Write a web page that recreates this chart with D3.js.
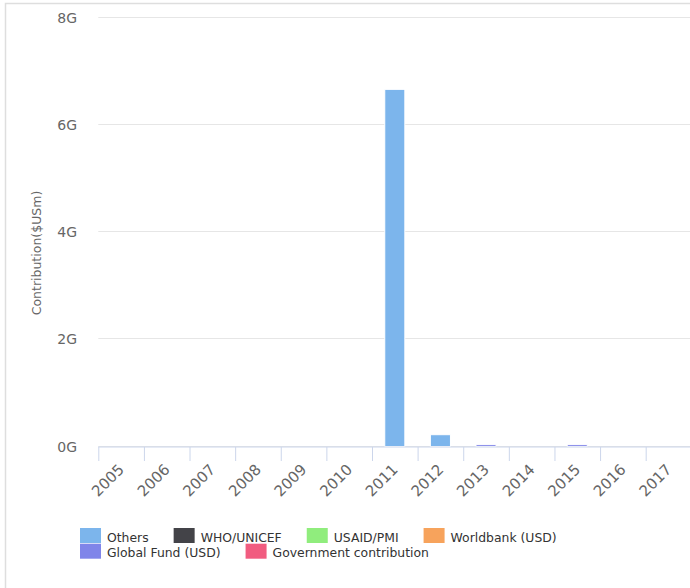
<!DOCTYPE html>
<html>
<head>
<meta charset="utf-8">
<script src="https://cdn.jsdelivr.net/npm/d3@7"></script>
<style>
  body { margin: 0; background: #fff; }
  text { font-family: "DejaVu Sans", sans-serif; }
</style>
</head>
<body>
<div id="chart"></div>
<script>
'use strict';

// data (values in USD)
var years = ["2005", "2006", "2007", "2008", "2009", "2010", "2011",
             "2012", "2013", "2014", "2015", "2016", "2017"];
var seriesNames = ["Others", "WHO/UNICEF", "USAID/PMI", "Worldbank (USD)",
                   "Global Fund (USD)", "Government contribution"];
var seriesColors = ["#7cb5ec", "#434348", "#90ed7d", "#f7a35c", "#8085e9", "#f15c80"];
var others      = [0, 0, 0, 0, 0, 0, 6.66e9, 0.22e9, 0, 0, 0, 0, 0];
var whoUnicef   = [0, 0, 0, 0, 0, 0, 0, 0, 0, 0, 0, 0, 0];
var usaidPmi    = [0, 0, 0, 0, 0, 0, 0, 0, 0, 0, 0, 0, 0];
var worldbank   = [0, 0, 0, 0, 0, 0, 0, 0, 0, 0, 0, 0, 0];
var globalFund  = [0, 0, 0, 0, 0, 0, 0, 0, 0.035e9, 0, 0.035e9, 0, 0];
var government  = [0, 0, 0, 0, 0, 0, 0, 0, 0, 0, 0, 0, 0];
var yTicks = [0, 2e9, 4e9, 6e9, 8e9];

var seriesValues = [others, whoUnicef, usaidPmi, worldbank, globalFund, government];

var width = 690, height = 588;
var svg = d3.select('#chart').append('svg')
    .attr('width', width)
    .attr('height', height);

// outer frame
svg.append('rect')
    .attr('x', 5.5).attr('y', 3.5)
    .attr('width', 800).attr('height', 700)
    .attr('fill', 'none')
    .attr('stroke', '#dedede')
    .attr('stroke-width', 1.5);

var x = d3.scaleBand()
    .domain(years)
    .range([98.3, 691.3])
    .paddingInner(0.56)
    .paddingOuter(0.28);

var y = d3.scaleLinear()
    .domain([0, 8e9])
    .range([446.5, 17.5]);

// grid lines
svg.append('g').selectAll('line')
    .data(yTicks)
    .enter().append('line')
    .attr('x1', 98.3).attr('x2', 700)
    .attr('y1', function(d) { return Math.round(y(d)) - 0.5; })
    .attr('y2', function(d) { return Math.round(y(d)) - 0.5; })
    .attr('stroke', '#e6e6e6');

// y labels
svg.append('g').selectAll('text')
    .data(yTicks)
    .enter().append('text')
    .attr('x', 77)
    .attr('y', function(d) { return y(d) + 5; })
    .attr('text-anchor', 'end')
    .attr('font-size', 14)
    .attr('fill', '#666')
    .text(function(d) { return (d / 1e9) + 'G'; });

// y title
svg.append('text')
    .attr('transform', 'translate(40.5,253) rotate(-90)')
    .attr('text-anchor', 'middle')
    .attr('font-size', 12.5)
    .attr('fill', '#666')
    .text('Contribution($USm)');

// stacked columns (first series on top, like the source chart)
var table = years.map(function(yr, i) {
    var row = { year: yr };
    seriesNames.forEach(function(s, j) { row[s] = seriesValues[j][i]; });
    return row;
});
var stack = d3.stack().keys(seriesNames.slice().reverse());
var layers = stack(table);

svg.append('g').selectAll('g')
    .data(layers)
    .enter().append('g')
    .attr('fill', function(d) { return seriesColors[seriesNames.indexOf(d.key)]; })
    .selectAll('rect')
    .data(function(d) { return d; })
    .enter().append('rect')
    .attr('x', function(d) { return x(d.data.year); })
    .attr('width', x.bandwidth())
    .attr('y', function(d) { return y(d[1]); })
    .attr('height', function(d) { return y(d[0]) - y(d[1]); })
    .attr('stroke', '#fff')
    .attr('stroke-width', 1);

// x axis
var xAxis = svg.append('g');
xAxis.append('line')
    .attr('x1', 98.3).attr('x2', 700)
    .attr('y1', 447).attr('y2', 447)
    .attr('stroke', '#ccd6eb');
xAxis.selectAll('line.tick')
    .data(years)
    .enter().append('line')
    .attr('class', 'tick')
    .attr('x1', function(d) { return x(d) - x.step() * 0.28 + 0.5; })
    .attr('x2', function(d) { return x(d) - x.step() * 0.28 + 0.5; })
    .attr('y1', 447).attr('y2', 461)
    .attr('stroke', '#ccd6eb');
xAxis.selectAll('text')
    .data(years)
    .enter().append('text')
    .attr('transform', function(d) {
        return 'translate(' + (x(d) + x.bandwidth() / 2 + 4) + ',470.5) rotate(-45)';
    })
    .attr('text-anchor', 'end')
    .attr('font-size', 15)
    .attr('fill', '#666')
    .text(function(d) { return d; });

// legend
var legend = svg.append('g');
var lx = 80, ly = 528;
seriesNames.forEach(function(name, i) {
    var item = legend.append('g');
    item.append('rect')
        .attr('width', 21).attr('height', 15)
        .attr('fill', seriesColors[i]);
    var t = item.append('text')
        .attr('x', 27).attr('y', 13.5)
        .attr('font-size', 12.4)
        .attr('fill', '#333')
        .text(name);
    var w = 27 + t.node().getComputedTextLength() + 25;
    if (lx + w > 620) { lx = 80; ly += 15.7; }
    item.attr('transform', 'translate(' + lx + ',' + ly + ')');
    lx += w;
});
</script>
</body>
</html>
